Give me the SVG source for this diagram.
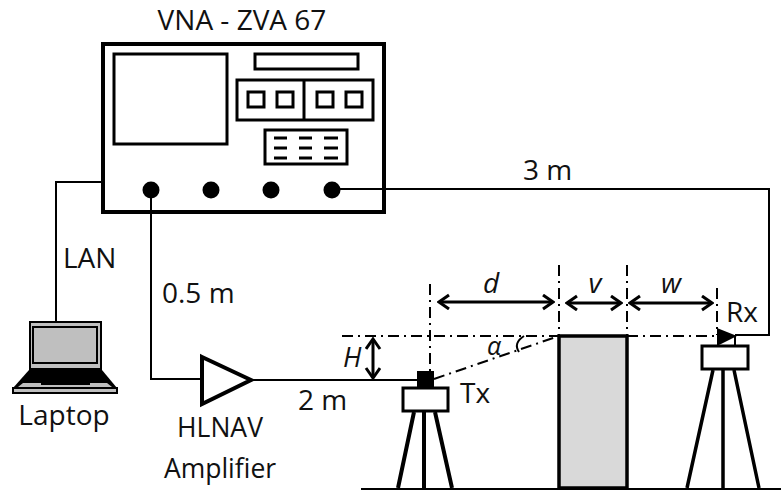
<svg xmlns="http://www.w3.org/2000/svg" width="781" height="490" viewBox="0 0 781 490">
<style>
text{font-family:"Open Sans","Noto Sans",sans-serif;font-size:28px;fill:#111}
.i{font-style:italic}
.m{text-anchor:middle}
.b{fill:#fff;stroke:#000;stroke-width:3}
.w{fill:none;stroke:#000;stroke-width:2}
.t{fill:none;stroke:#000;stroke-width:4}
.c{fill:none;stroke:#000;stroke-width:2;stroke-dasharray:11 5 2 5}
.a{fill:none;stroke:#000;stroke-width:3}
</style>
<defs>
<marker id="h" markerWidth="14" markerHeight="18" refX="12" refY="8" orient="auto-start-reverse" markerUnits="userSpaceOnUse"><path d="M2 1L12 8L2 15" fill="none" stroke="#000" stroke-width="3"/></marker>
</defs>
<rect id="ground" x="361" y="488" width="420" height="2" fill="#000"/>
<g id="connectors">
<path class="w" d="M103 182H56V321"/>
<path class="w" d="M151 190V379H201"/>
<path class="w" d="M251 380H418"/>
<path class="w" d="M332 189H769V335H735"/>
<path class="c" d="M342 336H558"/>
<path class="c" d="M627 336H717"/>
<path class="c" d="M430 284V371"/>
<path class="c" d="M559 265V335"/>
<path class="c" d="M627 265V335"/>
<path class="c" d="M717 288V335"/>
<path class="c" d="M434 379L556 337"/>
<path class="a" d="M439 302H553" marker-start="url(#h)" marker-end="url(#h)"/>
<path class="a" d="M567 303H621" marker-start="url(#h)" marker-end="url(#h)"/>
<path class="a" d="M630 303H712" marker-start="url(#h)" marker-end="url(#h)"/>
<path class="a" d="M373 339V378" marker-start="url(#h)" marker-end="url(#h)"/>
<path class="w" d="M524 336Q513 343 519 352"/>
</g>
<g id="vna">
<rect class="t" x="103" y="44" width="281" height="168" fill="none"/>
<rect class="b" x="114" y="54" width="113" height="90"/>
<rect class="b" x="255" y="54" width="103" height="15"/>
<rect class="b" x="237" y="80" width="136" height="40"/>
<path class="b" d="M304 80V120"/>
<rect class="b" x="248" y="92" width="16" height="15"/>
<rect class="b" x="277" y="92" width="16" height="15"/>
<rect class="b" x="317" y="92" width="16" height="15"/>
<rect class="b" x="346" y="92" width="16" height="15"/>
<rect class="b" x="265" y="130" width="82" height="34"/>
<path d="M274 138h13M299 138h13M324 138h14M274 148h13M299 148h13M324 148h14M274 158h13M299 158h13M324 158h14" stroke="#000" stroke-width="3" fill="none"/>
<circle cx="151" cy="190" r="8.5"/>
<circle cx="211" cy="190" r="8.5"/>
<circle cx="271" cy="190" r="8.5"/>
<circle cx="332" cy="190" r="8.5"/>
<text class="m" x="242" y="30">VNA - ZVA 67</text>
</g>
<g id="laptop">
<rect x="30" y="322" width="71" height="47" fill="#bfbfbf" stroke="#000" stroke-width="2"/>
<rect x="33" y="327" width="64" height="36" fill="#bfbfbf" stroke="#000" stroke-width="2"/>
<path d="M29 370H102L117 388H13Z" fill="#000"/>
<path d="M23 383H107L112 387H18Z" fill="#bfbfbf"/>
<path d="M41 381H90V385H41Z" fill="#000"/>
<path d="M13 388H117V393H13Z" fill="#bfbfbf" stroke="#000" stroke-width="2"/>
<text class="m" x="64" y="425">Laptop</text>
</g>
<g id="amplifier">
<path class="b" style="stroke-width:4" d="M202 357L251 380L202 404Z"/>
<text class="m" x="220" y="437" style="font-size:26.5px">HLNAV</text>
<text class="m" x="220" y="478" style="font-size:26.5px">Amplifier</text>
</g>
<g id="tx">
<rect x="417" y="371" width="17" height="17"/>
<rect class="b" x="403" y="388" width="45" height="23"/>
<path class="t" d="M414 412L398 488M424 412V488M435 412L452 488"/>
<text x="460" y="403">Tx</text>
</g>
<g id="building">
<rect x="559" y="336" width="68" height="152" fill="#d9d9d9" stroke="#000" stroke-width="3.5"/>
</g>
<g id="rx">
<path d="M717 328L737 336L717 346Z"/>
<path class="w" d="M735 335V346"/>
<rect class="b" x="702" y="346" width="46" height="23"/>
<path class="t" d="M713 370L687 488M723 370V488M734 370L759 488" style="stroke-width:3.5"/>
<text x="726" y="322">Rx</text>
</g>
<g id="labels">
<text x="63" y="268">LAN</text>
<text x="162" y="303">0.5 m</text>
<text x="298" y="410">2 m</text>
<text x="523" y="180">3 m</text>
<text class="i m" x="491" y="293">d</text>
<text class="i m" x="595" y="293">v</text>
<text class="i m" x="671" y="293">w</text>
<text class="i" x="343" y="367" style="font-size:27px">H</text>
<text class="i" x="487" y="355" style="font-size:25px">α</text>
</g>
</svg>
